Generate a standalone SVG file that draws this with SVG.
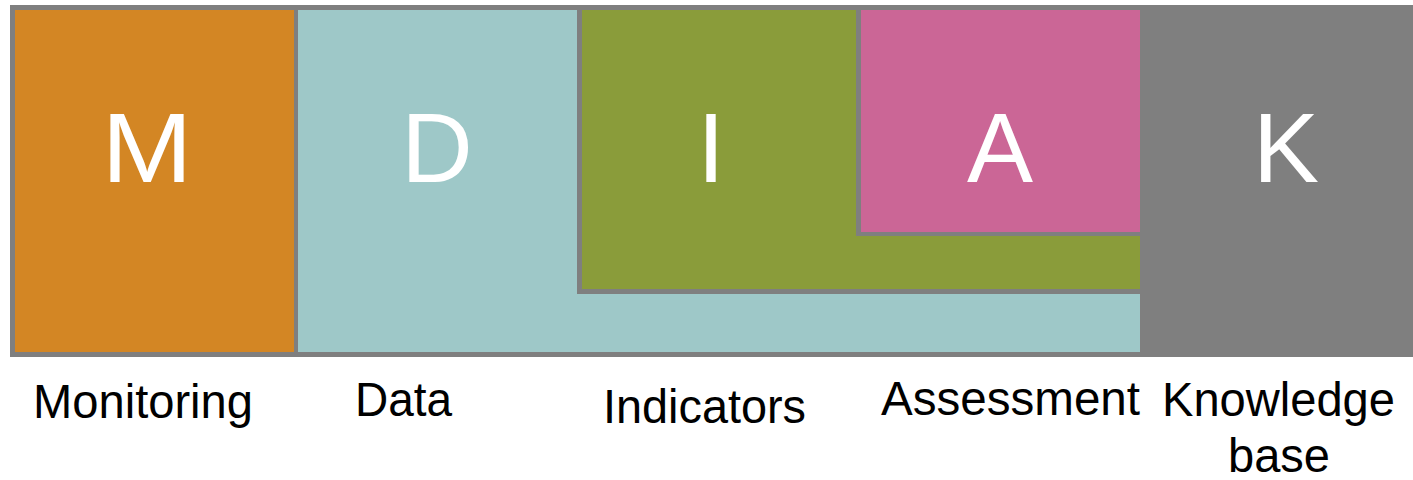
<svg xmlns="http://www.w3.org/2000/svg" width="1413" height="480" viewBox="0 0 1413 480">
<style>
.big{font-family:"Liberation Sans",Arial,sans-serif;font-size:99px;fill:#ffffff;text-anchor:middle}
.lbl{font-family:"Liberation Sans",Arial,sans-serif;font-size:48px;fill:#000000}
.bd{fill:#7f7f7f}
</style>
<rect width="1413" height="480" fill="#ffffff"/>
<g id="frame"><rect class="bd" x="10" y="5" width="1403" height="352"/></g>
<g id="node-M">
<rect x="15" y="10" width="279" height="342" fill="#d38624"/>
<text class="big" x="147" y="182" textLength="91" lengthAdjust="spacingAndGlyphs">M</text>
</g>
<g id="node-D">
<rect x="298" y="10" width="842" height="342" fill="#9ec8c8"/>
<text class="big" x="437" y="182">D</text>
</g>
<g id="node-I">
<rect class="bd" x="577" y="10" width="563" height="284"/>
<rect x="582" y="10" width="558" height="279" fill="#8a9c3a"/>
<text class="big" x="711" y="182">I</text>
</g>
<g id="node-A">
<rect class="bd" x="856" y="10" width="284" height="226"/>
<rect x="861" y="10" width="279" height="222" fill="#cb6696"/>
<text class="big" x="1000" y="182">A</text>
</g>
<g id="node-K">
<text class="big" x="1286" y="182">K</text>
</g>
<g id="labels">
<text class="lbl" x="33" y="418" textLength="220" lengthAdjust="spacingAndGlyphs">Monitoring</text>
<text class="lbl" x="355" y="416" textLength="97" lengthAdjust="spacingAndGlyphs">Data</text>
<text class="lbl" x="603" y="423" textLength="203" lengthAdjust="spacingAndGlyphs">Indicators</text>
<text class="lbl" x="881" y="415" textLength="259" lengthAdjust="spacingAndGlyphs">Assessment</text>
<text class="lbl" x="1162" y="416" textLength="233" lengthAdjust="spacingAndGlyphs">Knowledge</text>
<text class="lbl" x="1228" y="472" textLength="102" lengthAdjust="spacingAndGlyphs">base</text>
</g>
<g id="connectors"></g>
</svg>
